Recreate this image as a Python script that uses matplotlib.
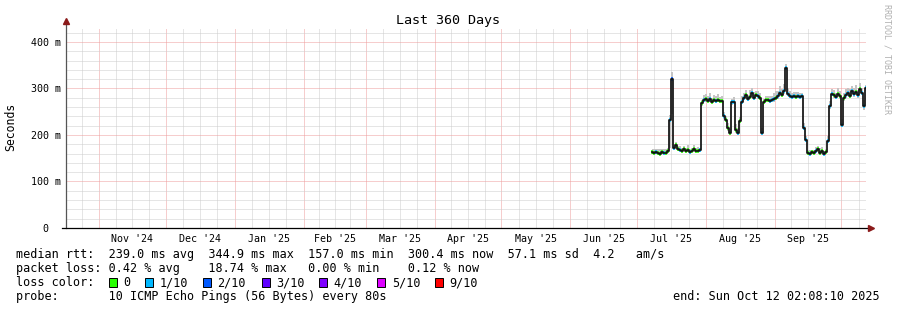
import numpy as np
import pandas as pd
import matplotlib
matplotlib.use("Agg")
import matplotlib.pyplot as plt
import matplotlib.dates as mdates
import matplotlib.transforms as mtransforms
from matplotlib.ticker import MultipleLocator, NullFormatter, FixedLocator
from matplotlib.patches import Rectangle
from matplotlib.lines import Line2D

# ---------------- data ----------------
title = "Last 360 Days"
y_label = "Seconds"
watermark = "RRDTOOL / TOBI OETIKER"
period_start = "2024-10-17 02:08:10"
period_end = "2025-10-12 02:08:10"
first_sample = "2025-07-07 19:00"
sample_minutes = 1296  # one consolidated step per 2 px

median_ms = [
    163, 161, 164, 162, 160, 163, 161, 162, 165,
    232, 320, 172,
    178, 170, 168, 166, 170, 165, 168, 164, 166, 170, 165, 166, 168,
    268, 275, 278, 274, 277, 272, 275, 274, 276, 273, 274,
    240, 232, 214, 204, 270, 272, 210, 204, 230, 272,
    280, 285, 278, 282, 290, 280, 286, 284, 280,
    204,
    270, 275, 276, 274, 275, 278, 280, 284, 290, 286, 295,
    345,
    288, 284, 282, 283, 282, 284, 282, 283,
    215, 189,
    162, 160, 163, 161, 165, 170, 162, 166, 160, 163,
    188, 262,
    288, 285, 282, 288, 284, 222,
    280, 285, 290, 284, 295, 288, 292, 285, 298, 290, 262, 300,
]
smoke_up_ms = [
    6, 8, 5, 7, 9, 6, 8, 7, 6,
    12, 15, 8,
    8, 6, 9, 7, 6, 8, 10, 6, 7, 9, 6, 8, 5,
    8, 12, 10, 9, 14, 8, 11, 9, 12, 8, 10,
    10, 8, 12, 9, 8, 10, 14, 10, 9, 12,
    10, 12, 8, 14, 10, 12, 9, 11, 10,
    12,
    8, 9, 7, 10, 8, 12, 14, 10, 15, 12, 14,
    8,
    12, 10, 8, 9, 10, 8, 9, 7,
    10, 8,
    6, 8, 5, 7, 9, 6, 10, 8, 6, 7,
    10, 12,
    10, 12, 9, 14, 10, 12,
    10, 14, 12, 15, 10, 12, 16, 12, 14, 10, 13, 8,
]
smoke_dn_ms = [
    4, 3, 5, 4, 3, 4, 5, 3, 4,
    60, 75, 4,
    5, 4, 3, 4, 4, 3, 5, 4, 3, 4, 4, 3, 4,
    5, 4, 6, 4, 5, 4, 4, 6, 4, 5, 4,
    6, 4, 5, 4, 5, 4, 6, 5, 4, 5,
    5, 6, 4, 5, 6, 5, 4, 6, 5,
    5,
    4, 5, 4, 5, 4, 6, 5, 6, 5, 4, 6,
    6,
    5, 4, 5, 4, 4, 5, 4, 4,
    5, 5,
    4, 3, 4, 5, 3, 4, 5, 4, 3, 4,
    5, 6,
    5, 6, 4, 5, 6, 5,
    6, 5, 6, 5, 7, 6, 5, 6, 7, 5, 8, 6,
]
loss_tenths = [
    0, 0, 1, 0, 0, 0, 1, 0, 0,
    1, 2, 1,
    0, 0, 1, 0, 0, 0, 0, 1, 0, 0, 0, 0, 1,
    0, 1, 0, 0, 1, 0, 0, 1, 0, 0, 0,
    1, 0, 0, 0, 1, 1, 0, 1, 0, 1,
    1, 0, 1, 0, 1, 1, 0, 1, 0,
    1,
    0, 0, 0, 1, 1, 1, 0, 1, 1, 0, 1,
    1,
    1, 1, 1, 1, 0, 1, 1, 1,
    1, 1,
    0, 1, 0, 0, 1, 0, 0, 0, 1, 0,
    1, 1,
    1, 0, 1, 0, 0, 1,
    0, 1, 1, 0, 1, 1, 0, 1, 0, 1, 1, 1,
]

y_tick_values = [0, 100, 200, 300, 400]
y_tick_labels = ["0", "100", "200", "300", "400"]
y_unit = "m"
y_top = 430.1

x_tick_months = ["2024-11", "2024-12", "2025-01", "2025-02", "2025-03", "2025-04",
                 "2025-05", "2025-06", "2025-07", "2025-08", "2025-09"]
x_tick_labels = ["Nov '24", "Dec '24", "Jan '25", "Feb '25", "Mar '25", "Apr '25",
                 "May '25", "Jun '25", "Jul '25", "Aug '25", "Sep '25"]

loss_levels = [0, 1, 2, 3, 4, 5, 9]
loss_labels = ["0", "1/10", "2/10", "3/10", "4/10", "5/10", "9/10"]
loss_colors = ["#26ff00", "#00b8ff", "#0059ff", "#5e00ff", "#7e00ff", "#dd00ff", "#ff0000"]

line_rtt = "median rtt:  239.0 ms avg  344.9 ms max  157.0 ms min  300.4 ms now  57.1 ms sd  4.2   am/s"
line_loss = "packet loss: 0.42 % avg    18.74 % max   0.00 % min    0.12 % now"
line_color_head = "loss color:"
line_probe = "probe:       10 ICMP Echo Pings (56 Bytes) every 80s"
line_end = "end: Sun Oct 12 02:08:10 2025"

# ---------------- figure ----------------
W, H = 897, 310
MONO = "DejaVu Sans Mono"
plt.rcParams["font.family"] = [MONO, "DejaVu Sans"]

fig = plt.figure(figsize=(W / 100, H / 100), dpi=100)
fig.patch.set_facecolor("white")


def fx(px):
    return px / W


def fy(py):
    return 1 - py / H


ax = fig.add_axes([fx(66), fy(228), 800 / W, 200 / H])
ax.set_facecolor("white")

t0 = pd.Timestamp(period_start)
t1 = pd.Timestamp(period_end)
ax.set_xlim(t0, t1)
ax.set_ylim(0, y_top)

dates = pd.date_range(first_sample, periods=len(median_ms), freq=f"{sample_minutes}min")
med = np.array(median_ms, dtype=float)
hi = med + np.array(smoke_up_ms, dtype=float)
lo = med - np.array(smoke_dn_ms, dtype=float)

# smoke
ax.fill_between(dates, lo, hi, step="mid", color="#c4c4c4", lw=0, zorder=2)

# loss-coloured median segments
half = pd.Timedelta(minutes=sample_minutes / 2)
color_of = dict(zip(loss_levels, loss_colors))
seg_cols = [color_of[v] for v in loss_tenths]
ax.hlines(med, dates - half, dates + half, colors=seg_cols, lw=2.6, zorder=3)

# median line
ax.plot(dates, med, drawstyle="steps-mid", color="#111111", lw=1.25, zorder=4)

# grid: month starts (major) and quarter-month divisions (minor)
month_starts = pd.date_range(t0.normalize() - pd.offsets.MonthBegin(1),
                             t1 + pd.offsets.MonthBegin(1), freq="MS")
quarters = []
for a, b in zip(month_starts[:-1], month_starts[1:]):
    for k in (1, 2, 3):
        quarters.append(a + (b - a) * k / 4)
ax.xaxis.set_major_locator(FixedLocator(mdates.date2num(month_starts)))
ax.xaxis.set_minor_locator(FixedLocator(mdates.date2num(pd.DatetimeIndex(quarters))))
ax.xaxis.set_major_formatter(NullFormatter())
ax.xaxis.set_minor_formatter(NullFormatter())
ax.yaxis.set_major_locator(MultipleLocator(100))
ax.yaxis.set_minor_locator(MultipleLocator(20))
ax.yaxis.set_major_formatter(NullFormatter())
ax.tick_params(which="both", length=0)
dot = (0, (1, 1))
ax.grid(which="minor", color="#cdcdcd", lw=0.72, ls=dot, zorder=0)
ax.grid(which="major", color="#ee9c9c", lw=0.72, ls=dot, zorder=1)
ax.set_axisbelow(True)
for s in ax.spines.values():
    s.set_visible(False)

# axes lines with arrows
ax.add_line(Line2D([0, 0], [0, 1 + 5 / 200], transform=ax.transAxes, color="#555555",
                   lw=0.9, clip_on=False, zorder=5))
ax.add_line(Line2D([-4 / 800, 1 + 3 / 800], [0, 0], transform=ax.transAxes, color="black",
                   lw=0.9, clip_on=False, zorder=5))
ax.plot([0], [1 + 7 / 200], marker="^", color="#8b1a1a", ms=4, transform=ax.transAxes,
        clip_on=False, zorder=6)
ax.plot([1 + 5 / 800], [0], marker=">", color="#8b1a1a", ms=4, transform=ax.transAxes,
        clip_on=False, zorder=6)

# y tick labels
ytr = mtransforms.blended_transform_factory(fig.transFigure, ax.transData)
for v, lab in zip(y_tick_values, y_tick_labels):
    txt = lab + " " + y_unit if v != 0 else lab
    xr = 60.5 if v != 0 else 48.5
    ax.text(fx(xr), v, txt, transform=ytr, ha="right", va="center_baseline",
            fontsize=7.2, family=MONO, color="#000000", clip_on=False)

# x tick labels at month middles
xtr = mtransforms.blended_transform_factory(ax.transData, fig.transFigure)
for m, lab in zip(x_tick_months, x_tick_labels):
    ms = pd.Timestamp(m + "-01")
    me = ms + pd.offsets.MonthBegin(1)
    mid = ms + (me - ms) / 2
    ax.text(mdates.date2num(mid), fy(241.7), lab, transform=xtr, ha="center",
            va="baseline", fontsize=7.2, family=MONO, clip_on=False)

# title, labels
fig.text(fx(448), fy(23.8), title, ha="center", va="baseline", fontsize=9.6, family=MONO)
fig.text(fx(11), fy(127), y_label, ha="center", va="center", rotation=90, fontsize=8.3,
         family=MONO)
fig.text(fx(887), fy(4), watermark, ha="center", va="top", rotation=270, fontsize=6,
         family=MONO, color="#b0b0b0")

# legend
fs = 8.45
fig.text(fx(16), fy(258.3), line_rtt, ha="left", va="baseline", fontsize=fs, family=MONO)
fig.text(fx(16), fy(272.3), line_loss, ha="left", va="baseline", fontsize=fs, family=MONO)
fig.text(fx(16), fy(286.3), line_color_head, ha="left", va="baseline", fontsize=fs, family=MONO)
sq_x = [108.7, 145.3, 203.0, 261.7, 319.3, 377.3, 435.0]
for xs, lab, col in zip(sq_x, loss_labels, loss_colors):
    fig.patches.append(Rectangle((fx(xs), fy(286.7)), 8 / W, 8.5 / H, transform=fig.transFigure,
                                 facecolor=col, edgecolor="black", lw=0.7))
    fig.text(fx(xs + 14.5), fy(286.3), lab, ha="left", va="baseline", fontsize=fs, family=MONO)
fig.text(fx(16), fy(300), line_probe, ha="left", va="baseline", fontsize=fs, family=MONO)
fig.text(fx(880), fy(300), line_end, ha="right", va="baseline", fontsize=fs, family=MONO)

fig.savefig("out.png", dpi=100, facecolor="white")
